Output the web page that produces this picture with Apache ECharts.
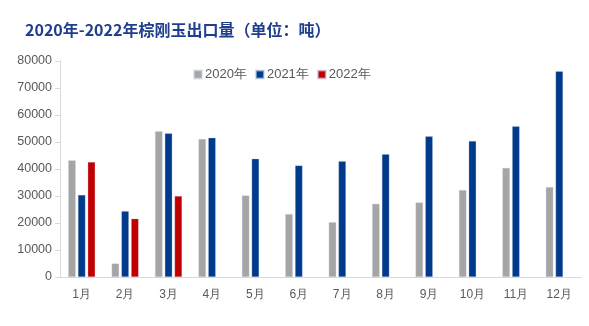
<!DOCTYPE html>
<html>
<head>
<meta charset="utf-8">
<script src="https://cdn.jsdelivr.net/npm/echarts@6/dist/echarts.min.js"></script>
<style>
  html, body { margin: 0; padding: 0; background: #fff; }
  #chart { width: 589px; height: 326px; }
</style>
</head>
<body>
<div id="chart"></div>
<script>
// Monthly export volume of brown fused alumina, tonnes
const months = ['1月', '2月', '3月', '4月', '5月', '6月', '7月', '8月', '9月', '10月', '11月', '12月'];
const y2020 = [43200, 5000, 54000, 51100, 30200, 23300, 20300, 27100, 27600, 32200, 40400, 33300];
const y2021 = [30400, 24400, 53200, 51600, 43800, 41300, 42900, 45500, 52100, 50400, 55800, 76200];
const y2022 = [42600, 21600, 30000, null, null, null, null, null, null, null, null, null];
const seriesNames = ['2020年', '2021年', '2022年'];
const seriesColors = ['#A5A5A5', '#003A8C', '#C00000'];

const chart = echarts.init(document.getElementById('chart'), null, { renderer: 'canvas' });

const labelFont = { fontFamily: 'Liberation Sans, Arial, sans-serif', fontSize: 12, color: '#595959' };

chart.setOption({
  animation: false,
  title: {
    text: '2020年-2022年棕刚玉出口量（单位：吨）',
    left: 20,
    top: 17,
    textStyle: {
      fontFamily: '"Noto Sans CJK SC", sans-serif',
      fontSize: 16,
      fontWeight: 'bold',
      color: '#1F3F8C'
    }
  },
  legend: {
    data: seriesNames,
    left: 188,
    top: 63,
    itemWidth: 8,
    itemHeight: 8,
    itemGap: 8,
    icon: 'rect',
    textStyle: Object.assign({}, labelFont, { fontSize: 13, padding: [0, 0, 0, -2] })
  },
  grid: { left: 60, right: 8, top: 61, bottom: 49 },
  xAxis: {
    type: 'category',
    data: months,
    axisLine: { lineStyle: { color: '#D9D9D9' } },
    axisTick: { length: 5, lineStyle: { color: '#D9D9D9' } },
    axisLabel: Object.assign({}, labelFont, { margin: 12 })
  },
  yAxis: {
    type: 'value',
    min: 0,
    max: 80000,
    interval: 10000,
    axisLine: { show: true, lineStyle: { color: '#D9D9D9' } },
    axisTick: { show: true, inside: false, length: 5, lineStyle: { color: '#D9D9D9' } },
    splitLine: { show: false },
    axisLabel: Object.assign({}, labelFont, { fontSize: 12.5, margin: 8, formatter: v => String(v) })
  },
  series: [y2020, y2021, y2022].map((vals, i) => ({
    name: seriesNames[i],
    type: 'bar',
    data: vals,
    barWidth: 7.5,
    barGap: '30%',
    itemStyle: { color: seriesColors[i], borderColor: 'rgba(200,210,230,0.6)', borderWidth: 0.5 }
  }))
});
</script>
</body>
</html>
